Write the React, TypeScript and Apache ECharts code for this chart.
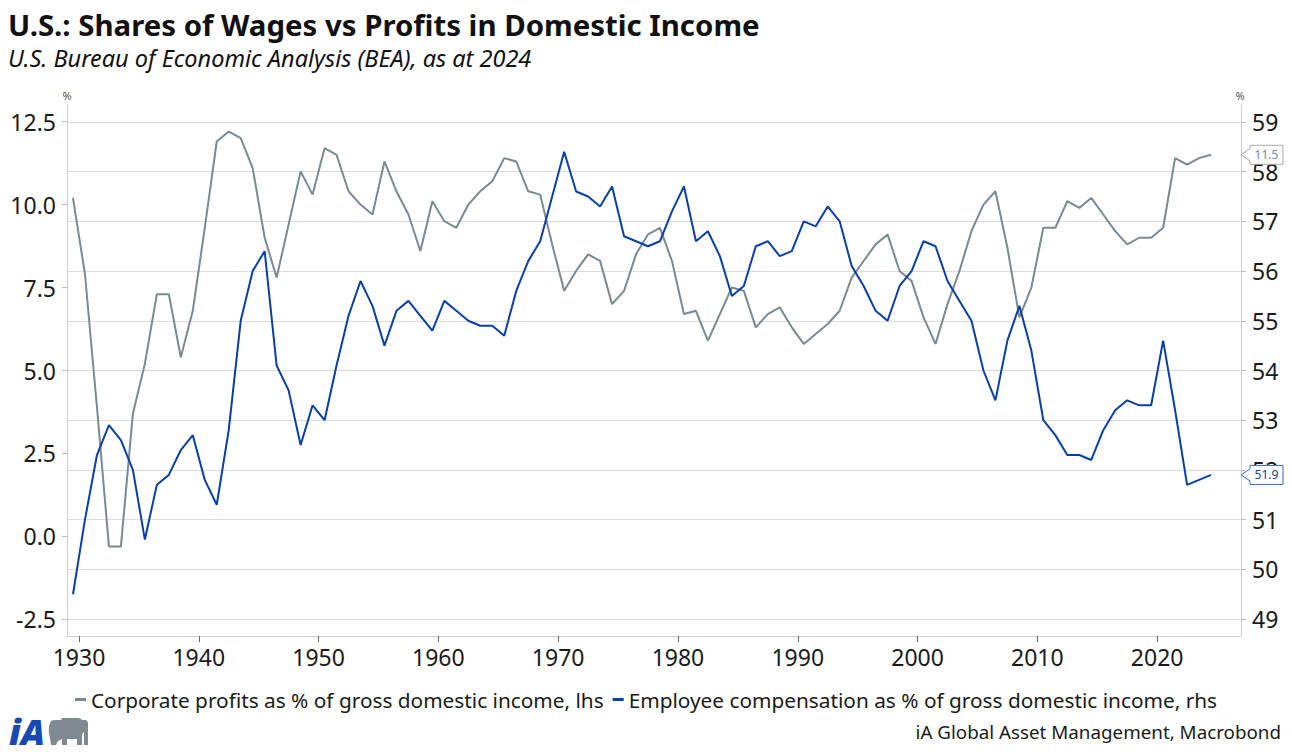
import React, { useEffect, useRef } from "react";
import * as echarts from "echarts";

// Annual observations, 1929–2024
const firstYear = 1929;
const lastYear = 2024;

// Corporate profits as % of gross domestic income (left axis)
const profitShare = [
  10.2, 7.9, 3.9, -0.3, -0.3, 3.7, 5.2, 7.3, 7.3, 5.4, 6.8, 9.3, 11.9, 12.2, 12.0, 11.1, 9.0, 7.8, 9.4, 11.0,
  10.3, 11.7, 11.5, 10.4, 10.0, 9.7, 11.3, 10.4, 9.7, 8.6, 10.1, 9.5, 9.3, 10.0, 10.4, 10.7, 11.4, 11.3, 10.4, 10.3,
  8.8, 7.4, 8.0, 8.5, 8.3, 7.0, 7.4, 8.5, 9.1, 9.3, 8.3, 6.7, 6.8, 5.9, 6.7, 7.5, 7.4, 6.3, 6.7, 6.9,
  6.3, 5.8, 6.1, 6.4, 6.8, 7.8, 8.3, 8.8, 9.1, 8.0, 7.7, 6.6, 5.8, 7.0, 8.0, 9.2, 10.0, 10.4, 8.7, 6.6,
  7.5, 9.3, 9.3, 10.1, 9.9, 10.2, 9.7, 9.2, 8.8, 9.0, 9.0, 9.3, 11.4, 11.2, 11.4, 11.5,
];

// Employee compensation as % of gross domestic income (right axis)
const wageShare = [
  49.5, 51.0, 52.3, 52.9, 52.6, 52.0, 50.6, 51.7, 51.9, 52.4, 52.7, 51.8, 51.3, 52.8, 55.0, 56.0, 56.4, 54.1, 53.6, 52.5,
  53.3, 53.0, 54.1, 55.1, 55.8, 55.3, 54.5, 55.2, 55.4, 55.1, 54.8, 55.4, 55.2, 55.0, 54.9, 54.9, 54.7, 55.6, 56.2, 56.6,
  57.5, 58.4, 57.6, 57.5, 57.3, 57.7, 56.7, 56.6, 56.5, 56.6, 57.2, 57.7, 56.6, 56.8, 56.3, 55.5, 55.7, 56.5, 56.6, 56.3,
  56.4, 57.0, 56.9, 57.3, 57.0, 56.1, 55.7, 55.2, 55.0, 55.7, 56.0, 56.6, 56.5, 55.8, 55.4, 55.0, 54.0, 53.4, 54.6, 55.3,
  54.4, 53.0, 52.7, 52.3, 52.3, 52.2, 52.8, 53.2, 53.4, 53.3, 53.3, 54.6, 53.2, 51.7, 51.8, 51.9,
];

// Axis ticks
const yearTicks = [1930, 1940, 1950, 1960, 1970, 1980, 1990, 2000, 2010, 2020];
const leftTicks = [-2.5, 0, 2.5, 5, 7.5, 10, 12.5];
const rightTicks = [49, 50, 51, 52, 53, 54, 55, 56, 57, 58, 59];

const profitName = "Corporate profits as % of gross domestic income, lhs";
const wageName = "Employee compensation as % of gross domestic income, rhs";

const GRAY = "#7B8992";
const BLUE = "#0A3FA6";
const LOGO_BLUE = "#1749B4";
const LOGO_GRAY = "#7E8A90";
const GRID = "#DCDCDC";
const AXIS = "#CFCFCF";
const TEXT = "#1A1A1A";
const FONT = "'Noto Sans', 'Open Sans', sans-serif";

const ELEPHANT =
  "M3,3 Q4,2 8,2 L13,2 L14,0 L30,0 Q33,0 34,2 L37,2 Q40,2 40,6 L40,27 L36,27 L36,14 L34,16 L34,27 L29,27 L29,21 L19,21 L19,27 L14,27 L14,21 L10,23 L8,27 L3,27 L2,20 Q0,14 1,8 Z";

let shapeRegistered = false;

export default function App() {
  const ref = useRef<HTMLDivElement>(null);

  useEffect(() => {
    document.body.style.margin = "0";
    if (!ref.current) return;
    if (!shapeRegistered) {
      echarts.graphic.registerShape("elephant", echarts.graphic.extendPath(ELEPHANT, {}));
      shapeRegistered = true;
    }
    const chart = echarts.init(ref.current, undefined, { renderer: "svg" });

    const years: number[] = [];
    for (let y = firstYear; y <= lastYear; y++) years.push(y);
    // annual values are plotted at mid-year
    const profitData = years.map((y, i) => [y + 0.5, profitShare[i]]);
    const wageData = years.map((y, i) => [y + 0.5, wageShare[i]]);

    const axisLabelBase = { color: TEXT, fontFamily: FONT, fontSize: 23 };

    chart.setOption({
      animation: false,
      backgroundColor: "#ffffff",
      textStyle: { fontFamily: FONT },
      grid: { left: 67, right: 51, top: 105, bottom: 119, containLabel: false },
      xAxis: {
        type: "value",
        min: 1929,
        max: 2027,
        axisLine: { show: true, onZero: false, lineStyle: { color: AXIS, width: 1 } },
        axisTick: { show: true, customValues: yearTicks, length: 6, lineStyle: { color: "#666" } },
        axisLabel: { ...axisLabelBase, customValues: yearTicks, margin: 9, formatter: (v: number) => String(v) },
        splitLine: { show: false },
      },
      yAxis: [
        {
          type: "value",
          position: "left",
          min: -3,
          max: 13,
          axisLine: { show: true, onZero: false, lineStyle: { color: AXIS } },
          axisTick: { show: true, customValues: leftTicks, length: 5, lineStyle: { color: "#BDBDBD" } },
          axisLabel: {
            ...axisLabelBase,
            customValues: leftTicks,
            margin: 11,
            formatter: (v: number) => v.toFixed(1),
          },
          splitLine: { show: false },
        },
        {
          type: "value",
          position: "right",
          min: 48.66,
          max: 59.34,
          axisLine: { show: true, onZero: false, lineStyle: { color: AXIS } },
          axisTick: { show: true, customValues: rightTicks, length: 5, lineStyle: { color: "#BDBDBD" } },
          axisLabel: { ...axisLabelBase, customValues: rightTicks, margin: 11, formatter: (v: number) => String(v) },
          splitLine: { show: true, lineStyle: { color: GRID, width: 1 } },
        },
      ],
      legend: {
        left: "center",
        top: 684,
        icon: "rect",
        itemWidth: 11,
        itemHeight: 3,
        itemGap: 9,
        textStyle: { color: TEXT, fontFamily: FONT, fontSize: 20.8 },
        data: [
          { name: profitName, itemStyle: { color: GRAY } },
          { name: wageName, itemStyle: { color: BLUE } },
        ],
      },
      series: [
        {
          name: profitName,
          type: "line",
          yAxisIndex: 0,
          data: profitData,
          symbol: "none",
          lineStyle: { color: GRAY, width: 2 },
          itemStyle: { color: GRAY },
          z: 2,
        },
        {
          name: wageName,
          type: "line",
          yAxisIndex: 1,
          data: wageData,
          symbol: "none",
          lineStyle: { color: BLUE, width: 2 },
          itemStyle: { color: BLUE },
          z: 3,
        },
      ],
    });

    // Last-value tags sitting on the right axis
    const axisX = chart.convertToPixel({ xAxisIndex: 0 }, 2027) as number;
    const lastProfit = profitShare[profitShare.length - 1];
    const lastWage = wageShare[wageShare.length - 1];
    const yProfit = chart.convertToPixel({ yAxisIndex: 0 }, lastProfit) as number;
    const yWage = chart.convertToPixel({ yAxisIndex: 1 }, lastWage) as number;

    const tag = (y: number, value: number, color: string, textColor: string) => ({
      type: "group",
      x: axisX,
      y,
      z: 100,
      children: [
        {
          type: "polygon",
          z: 100,
          shape: {
            points: [
              [0, 0],
              [9, -6],
              [9, -9.5],
              [42, -9.5],
              [42, 9.5],
              [9, 9.5],
              [9, 6],
            ],
          },
          style: { fill: "#ffffff", stroke: color, lineWidth: 1 },
        },
        {
          type: "text",
          z: 101,
          x: 25.5,
          y: 0,
          style: {
            text: value.toFixed(1),
            fill: textColor,
            font: `12px ${FONT}`,
            align: "center",
            verticalAlign: "middle",
          },
        },
      ],
    });

    chart.setOption({
      graphic: [
        {
          type: "text",
          left: 8,
          top: 10,
          style: { text: "U.S.: Shares of Wages vs Profits in Domestic Income", fill: "#111", font: `bold 29.4px ${FONT}` },
        },
        {
          type: "text",
          left: 8,
          top: 46,
          style: { text: "U.S. Bureau of Economic Analysis (BEA), as at 2024", fill: "#111", font: `italic 23.5px ${FONT}` },
        },
        {
          type: "text",
          x: 67,
          y: 95,
          style: { text: "%", fill: "#555", font: `11px ${FONT}`, align: "center", verticalAlign: "middle" },
        },
        {
          type: "text",
          x: 1240,
          y: 95,
          style: { text: "%", fill: "#555", font: `11px ${FONT}`, align: "center", verticalAlign: "middle" },
        },
        tag(yProfit, lastProfit, "#A9A9A9", GRAY),
        tag(yWage, lastWage, "#3A66C4", BLUE),
        {
          type: "text",
          x: 1281,
          y: 732,
          style: {
            text: "iA Global Asset Management, Macrobond",
            fill: TEXT,
            font: `18.8px ${FONT}`,
            align: "right",
            verticalAlign: "middle",
          },
        },
        {
          type: "text",
          x: 9,
          y: 731,
          style: {
            text: "iA",
            fill: LOGO_BLUE,
            font: `italic 900 36px ${FONT}`,
            align: "left",
            verticalAlign: "middle",
          },
        },
        {
          type: "elephant",
          x: 48,
          y: 718,
          scaleX: 1.0,
          scaleY: 1.0,
          style: { fill: LOGO_GRAY },
        },
      ],
    });

    return () => chart.dispose();
  }, []);

  return <div ref={ref} style={{ position: "fixed", left: 0, top: 0, width: 1292, height: 755 }} />;
}
